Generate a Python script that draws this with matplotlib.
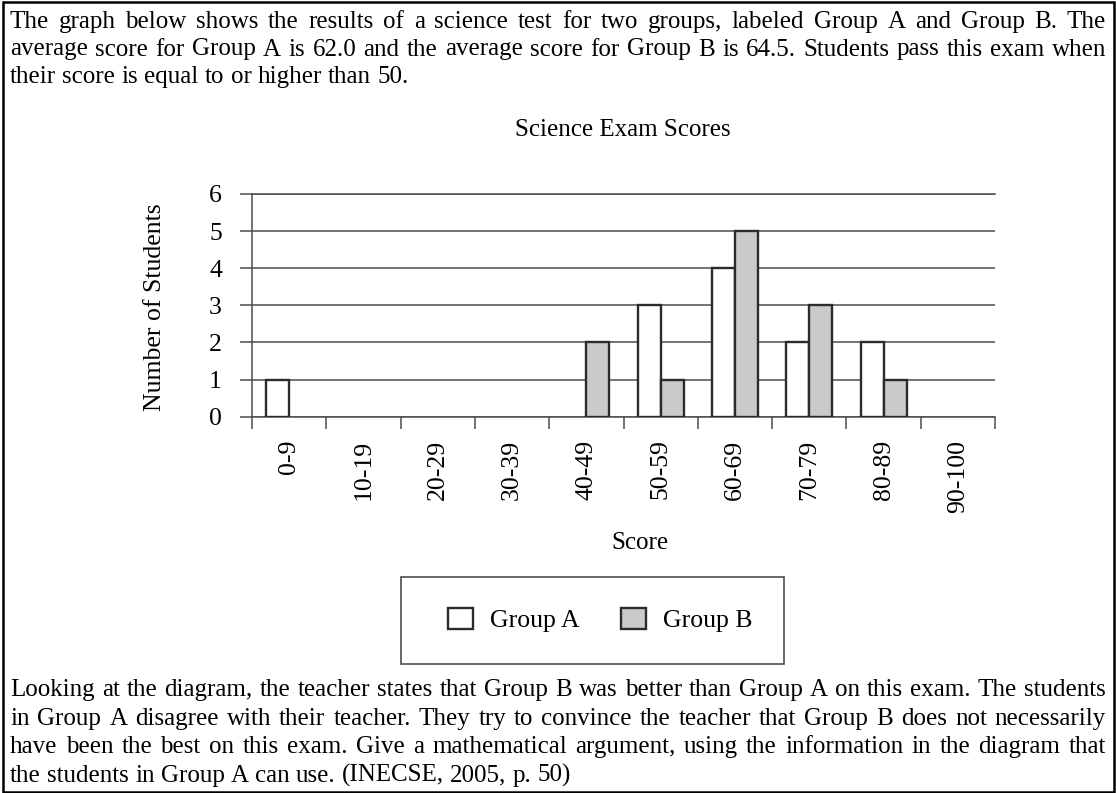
import numpy as np
import matplotlib
matplotlib.use('Agg')
import matplotlib.pyplot as plt
from matplotlib.patches import Patch, Rectangle

# Chart data
categories = ['0-9', '10-19', '20-29', '30-39', '40-49', '50-59', '60-69', '70-79', '80-89', '90-100']
group_a = [1, 0, 0, 0, 0, 3, 4, 2, 2, 0]
group_b = [0, 0, 0, 0, 2, 1, 5, 3, 1, 0]

top_lines = [
    "The graph below shows the results of a science test for two groups, labeled Group A and Group B. The",
    "average score for Group A is 62.0 and the average score for Group B is 64.5. Students pass this exam when",
    "their score is equal to or higher than 50.",
]
bottom_lines = [
    "Looking at the diagram, the teacher states that Group B was better than Group A on this exam. The students",
    "in Group A disagree with their teacher. They try to convince the teacher that Group B does not necessarily",
    "have been the best on this exam. Give a mathematical argument, using the information in the diagram that",
    "the students in Group A can use. (INECSE, 2005, p. 50)",
]

W, H = 1116, 793
plt.rcParams['font.family'] = 'Liberation Serif'
fig = plt.figure(figsize=(W / 100, H / 100), dpi=100)


def fx(px):
    return px / W


def fy(py):
    return 1 - py / H


EDGE = '#2b2b2b'
GRID = '#4d4d4d'
BODY = 18.0

# Bar chart (empty bins are not drawn)
ax = fig.add_axes([fx(252), fy(416.7), (995 - 252) / W, (416.7 - 194) / H])
x = np.arange(len(categories))
a = np.array(group_a)
b = np.array(group_b)
w = 0.31
ax.bar(x[a > 0] - w / 2, a[a > 0], w, color='white', edgecolor=EDGE, linewidth=1.7, zorder=3)
ax.bar(x[b > 0] + w / 2, b[b > 0], w, color='#c8cacb', edgecolor=EDGE, linewidth=1.7, zorder=3)
ax.set_xlim(-0.5, 9.5)
ax.set_ylim(0, 6)
ax.set_yticks(range(7))
ax.yaxis.grid(True, color=GRID, linewidth=1.1)
ax.set_axisbelow(True)
ax.spines['right'].set_visible(False)
for s in ['left', 'bottom', 'top']:
    ax.spines[s].set_color(GRID)
    ax.spines[s].set_linewidth(1.1)
ax.tick_params(axis='y', length=8.6, width=1.1, color=GRID, pad=13, labelsize=18.5)
ax.set_xticks(x)
ax.set_xticklabels(categories, rotation=90, fontsize=18.5)
ax.set_xticks(np.arange(-0.5, 10, 1), minor=True)
ax.tick_params(axis='x', which='major', length=0, pad=16.5)
ax.tick_params(axis='x', which='minor', length=8.6, width=1.1, color=GRID)

fig.text(fx(623), fy(130), 'Science Exam Scores', ha='center', va='center', fontsize=18)
fig.text(fx(155), fy(307), 'Number of Students', ha='center', va='center', rotation=90, fontsize=18.5)
fig.text(fx(640), fy(543), 'Score', ha='center', va='center', fontsize=18)

# Legend in its own box
handles = [Patch(facecolor='white', edgecolor=EDGE, linewidth=1.7),
           Patch(facecolor='#c8cacb', edgecolor=EDGE, linewidth=1.7)]
fig.legend(handles, ['Group A', 'Group B'], loc='center', bbox_to_anchor=(fx(600), fy(620)),
           ncol=2, frameon=False, fontsize=18.5, handlelength=1.0, handleheight=0.9,
           handletextpad=0.64, columnspacing=1.6)
fig.add_artist(Rectangle((fx(401), fy(664)), 383 / W, 87 / H, transform=fig.transFigure,
                         fill=False, edgecolor=GRID, linewidth=1.2))

# Outer frame
fig.add_artist(Rectangle((fx(3), fy(792)), 1111 / W, 790 / H, transform=fig.transFigure,
                         fill=False, edgecolor='black', linewidth=1.8))

# Justified body text
renderer = fig.canvas.get_renderer()
X0, X1 = 10, 1106


def put_line(line, ybase, justify=True):
    words = line.split(' ')
    ts = [fig.text(0, fy(ybase), wd, fontsize=BODY, va='baseline') for wd in words]
    ws = [t.get_window_extent(renderer).width for t in ts]
    if justify:
        gap = (X1 - X0 - sum(ws)) / (len(ws) - 1)
    else:
        gap = 0.25 * BODY * 100 / 72
    pos = X0
    for t, wpx in zip(ts, ws):
        t.set_x(fx(pos))
        pos += wpx + gap


for i, line in enumerate(top_lines):
    put_line(line, 28 + i * 27.5, justify=(i < len(top_lines) - 1))
for i, line in enumerate(bottom_lines):
    put_line(line, 696 + i * 28.6, justify=(i < len(bottom_lines) - 1))

fig.savefig('out.png', dpi=100, facecolor='white')
